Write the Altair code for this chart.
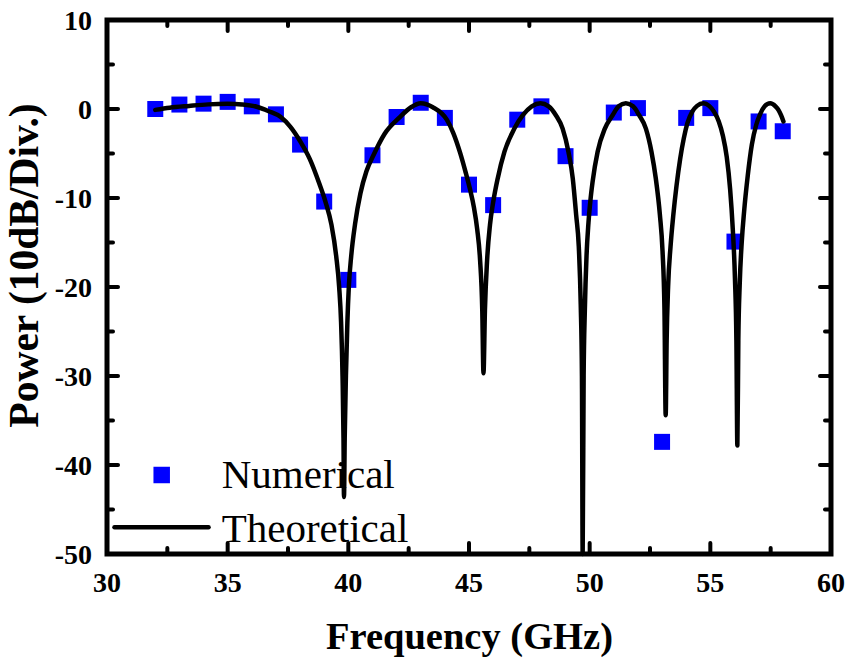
import altair as alt
import pandas as pd

# ---------------- data ----------------
num_freq = list(range(32, 59))
num_power = [0.0, 0.5, 0.6, 0.8, 0.3, -0.6, -4.0, -10.4, -19.2, -5.2,
             -0.9, 0.7, -1.0, -8.5, -10.8, -1.2, 0.3, -5.3, -11.1, -0.4,
             0.1, -37.4, -1.0, 0.1, -14.9, -1.4, -2.5]

theo_freq = [32.0, 32.6, 33.4, 34.2, 35.0, 35.6, 36.2, 36.7, 37.2, 37.6,
             38.0, 38.4, 38.8, 39.05, 39.3, 39.5, 39.62, 39.7, 39.76, 39.8,
             39.82, 39.85, 39.9, 39.96, 40.02, 40.12, 40.28, 40.5, 40.75, 41.04,
             41.5, 42.1, 42.6, 43.0, 43.5, 44.08, 44.35, 44.63, 44.85, 45.04,
             45.2, 45.34, 45.46, 45.55, 45.6, 45.66, 45.75, 45.87, 46.0, 46.19,
             46.47, 46.88, 47.23, 47.6, 47.96, 48.3, 48.6, 48.88, 49.12, 49.3,
             49.44, 49.55, 49.63, 49.68, 49.71, 49.75, 49.8, 49.87, 49.95, 50.03,
             50.12, 50.33, 50.63, 50.95, 51.2, 51.5, 51.8, 52.05, 52.33, 52.56,
             52.74, 52.91, 53.02, 53.1, 53.15, 53.19, 53.25, 53.35, 53.47, 53.6,
             53.75, 53.9, 54.05, 54.25, 54.45, 54.71, 54.95, 55.15, 55.35, 55.52,
             55.68, 55.82, 55.93, 56.02, 56.08, 56.12, 56.16, 56.22, 56.3, 56.4,
             56.55, 56.72, 56.9, 57.06, 57.25, 57.48, 57.7, 57.82, 57.93, 58.03]
theo_power = [-0.1, 0.15, 0.35, 0.52, 0.58, 0.5, 0.25, -0.25, -0.9, -2.0,
              -3.6, -5.6, -8.4, -10.4, -13.0, -16.6, -20.0, -24.0, -30.0, -37.0,
              -43.6, -37.0, -30.0, -24.0, -20.0, -16.5, -12.9, -9.5, -7.0, -5.2,
              -2.8, -1.0, 0.2, 0.64, 0.2, -1.2, -2.7, -4.9, -7.0, -9.0,
              -11.0, -13.5, -17.0, -22.6, -29.7, -22.6, -17.0, -13.0, -10.5, -7.8,
              -4.8, -2.2, -0.7, 0.3, 0.64, 0.3, -0.7, -2.2, -4.8, -7.8,
              -11.9, -15.5, -22.0, -30.0, -50.0, -30.0, -22.6, -16.5, -12.8, -10.3,
              -8.2, -4.8, -2.2, -0.7, 0.3, 0.64, 0.3, -0.7, -2.2, -4.8,
              -7.8, -11.9, -16.0, -22.6, -34.4, -26.0, -20.0, -15.5, -11.8, -8.6,
              -5.6, -3.3, -1.6, -0.3, 0.35, 0.64, 0.35, -0.3, -1.4, -3.0,
              -5.4, -9.0, -13.5, -19.0, -26.0, -37.8, -26.0, -19.5, -15.0, -11.5,
              -7.5, -4.0, -1.8, -0.6, 0.3, 0.64, 0.3, -0.1, -0.7, -1.4]

series_names = ["Numerical", "Theoretical"]

x_major = [30, 35, 40, 45, 50, 55, 60]
x_labels = ["30", "35", "40", "45", "50", "55", "60"]
x_minor = [32.5, 37.5, 42.5, 47.5, 52.5, 57.5]
y_major = [10, 0, -10, -20, -30, -40, -50]
y_labels = ["10", "0", "-10", "-20", "-30", "-40", "-50"]
y_minor = [5, -5, -15, -25, -35, -45]

# ---------------- layout ----------------
W, H = 724, 534
FONT = "Liberation Serif"

num_df = pd.DataFrame({"f": num_freq, "p": num_power})
theo_df = pd.DataFrame({"f": theo_freq, "p": theo_power})

xscale = alt.Scale(domain=[30, 60], nice=False, zero=False)
yscale = alt.Scale(domain=[-50, 10], nice=False, zero=False)

x_axis = alt.Axis(values=x_major, labels=False, domain=False, ticks=False,
                  tickSize=0, grid=False,
                  title="Frequency (GHz)", titleFont=FONT, titleFontWeight="bold",
                  titleFontSize=38.5, titleColor="black", titleBaseline="alphabetic",
                  titleY=94)
y_axis = alt.Axis(values=y_major, labels=False, domain=False, ticks=False,
                  tickSize=0, grid=False,
                  title="Power (10dB/Div.)", titleFont=FONT, titleFontWeight="bold",
                  titleFontSize=41.5, titleColor="black", titleAngle=270,
                  titleBaseline="alphabetic", titleAlign="center", titleX=-70, titleY=245)

X = lambda field: alt.X(field, scale=xscale, axis=x_axis)
Y = lambda field: alt.Y(field, scale=yscale, axis=y_axis)

points = alt.Chart(num_df).mark_square(size=256, color="#0000ff", opacity=1).encode(
    x=X("f:Q"), y=Y("p:Q"))

line = alt.Chart(theo_df).mark_line(color="black", strokeWidth=4.5, interpolate="monotone",
                                    strokeJoin="round", strokeCap="round").encode(
    x=X("f:Q"), y=Y("p:Q"))

tick_style = dict(color="black", strokeWidth=4, strokeCap="round")

def xticks(vals, length):
    df = pd.DataFrame({"v": vals})
    bottom = alt.Chart(df).mark_rule(**tick_style).encode(
        x=X("v:Q"), y=alt.value(H), y2=alt.value(H - length))
    top = alt.Chart(df).mark_rule(**tick_style).encode(
        x=X("v:Q"), y=alt.value(0), y2=alt.value(length))
    return [bottom, top]

def yticks(vals, length):
    df = pd.DataFrame({"v": vals})
    left = alt.Chart(df).mark_rule(**tick_style).encode(
        y=Y("v:Q"), x=alt.value(0), x2=alt.value(length))
    right = alt.Chart(df).mark_rule(**tick_style).encode(
        y=Y("v:Q"), x=alt.value(W), x2=alt.value(W - length))
    return [left, right]

ticks = xticks(x_major, 11) + xticks(x_minor, 6) + yticks(y_major, 11) + yticks(y_minor, 6)

# tick labels (bold serif, hyphen minus)
xl_df = pd.DataFrame({"v": x_major, "t": x_labels})
yl_df = pd.DataFrame({"v": y_major, "t": y_labels})
lab_style = dict(font=FONT, fontWeight="bold", fontSize=28, color="black",
                 baseline="alphabetic")
xlab = alt.Chart(xl_df).mark_text(align="center", **lab_style).encode(
    x=X("v:Q"), y=alt.value(H + 38), text="t:N")
ylab = alt.Chart(yl_df).mark_text(align="right", dy=9.5, **lab_style).encode(
    y=Y("v:Q"), x=alt.value(-15), text="t:N")

# legend
leg_num = pd.DataFrame({"label": [series_names[0]]})
leg_theo = pd.DataFrame({"label": [series_names[1]]})
leg_sq = alt.Chart(leg_num).mark_square(size=272, color="#0000ff", opacity=1).encode(
    x=alt.value(54.7), y=alt.value(455))
leg_t1 = alt.Chart(leg_num).mark_text(align="left", baseline="alphabetic", font=FONT,
                                      fontSize=41, color="black").encode(
    x=alt.value(114.7), y=alt.value(468.3), text="label:N")
leg_ln = alt.Chart(leg_theo).mark_rule(color="black", strokeWidth=4.5, strokeCap="round").encode(
    x=alt.value(7.5), x2=alt.value(101.5), y=alt.value(507.3))
leg_t2 = alt.Chart(leg_theo).mark_text(align="left", baseline="alphabetic", font=FONT,
                                       fontSize=41, color="black").encode(
    x=alt.value(114.7), y=alt.value(521.7), text="label:N")

chart = alt.layer(points, *ticks, xlab, ylab, leg_sq, leg_t1, leg_ln, leg_t2, line).properties(
    width=W, height=H,
    background="white",
    padding={"left": 107, "top": 20, "right": 19, "bottom": 107},
    autosize=alt.AutoSizeParams(type="none"),
).configure_view(stroke="black", strokeWidth=5).configure_axis(
    titleFont=FONT, titleFontWeight="bold", titleColor="black",
)

chart.save("out.html", embed_options={"renderer": "svg", "actions": False})
